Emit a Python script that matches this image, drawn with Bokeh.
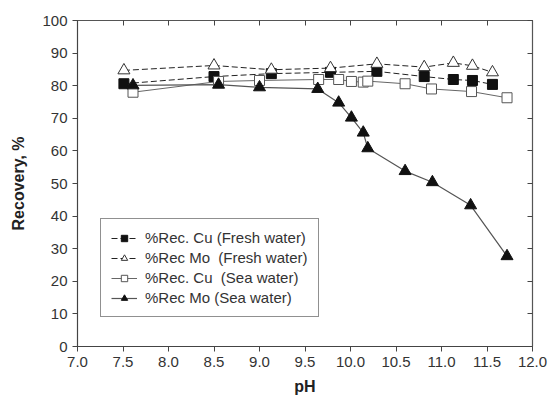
from bokeh.plotting import figure
from bokeh.models import (Range1d, LinearAxis, FixedTicker, Legend, LegendItem,
                          NumeralTickFormatter, CustomLabelingPolicy)
from bokeh.embed import file_html
from bokeh.resources import INLINE

# Data
ph_cu_fresh = [7.51, 8.50, 9.13, 9.78, 10.29, 10.81, 11.13, 11.34, 11.56]
rec_cu_fresh = [80.6, 82.8, 83.7, 84.1, 84.4, 82.8, 81.9, 81.6, 80.4]

ph_mo_fresh = [7.51, 8.50, 9.13, 9.78, 10.29, 10.81, 11.13, 11.34, 11.56]
rec_mo_fresh = [84.7, 86.2, 84.9, 85.4, 86.7, 85.7, 87.0, 86.1, 84.1]

ph_cu_sea = [7.61, 8.55, 9.00, 9.65, 9.87, 10.01, 10.14, 10.19, 10.60, 10.89, 11.33, 11.72]
rec_cu_sea = [78.0, 81.3, 81.6, 81.9, 81.9, 81.3, 81.1, 81.4, 80.6, 79.0, 78.2, 76.3]

ph_mo_sea = [7.61, 8.55, 9.00, 9.64, 9.87, 10.01, 10.14, 10.19, 10.60, 10.90, 11.32, 11.72]
rec_mo_sea = [80.1, 80.3, 79.5, 79.0, 74.8, 70.2, 65.6, 60.8, 53.8, 50.4, 43.3, 27.7]

x_ticks = [7.0, 7.5, 8.0, 8.5, 9.0, 9.5, 10.0, 10.5, 11.0, 11.5, 12.0]
y_ticks = [0, 10, 20, 30, 40, 50, 60, 70, 80, 90, 100]

labels = ["%Rec. Cu (Fresh water)", "%Rec Mo  (Fresh water)",
          "%Rec. Cu  (Sea water)", "%Rec Mo (Sea water)"]

FONT = "Liberation Sans"
TXT = "#333333"
AX = "#444444"

p = figure(width=550, height=403, output_backend="svg", toolbar_location=None,
           x_range=Range1d(7, 12), y_range=Range1d(0, 100),
           min_border_left=77, min_border_right=18, min_border_top=20, min_border_bottom=57)
p.background_fill_color = "white"
p.border_fill_color = "white"
p.grid.visible = False
p.outline_line_color = "#555555"
p.outline_line_width = 1.2

for ax in (p.xaxis[0], p.yaxis[0]):
    ax.axis_line_color = AX
    ax.major_tick_line_color = AX
    ax.major_tick_out = 5
    ax.major_tick_in = 0
    ax.minor_tick_line_color = None
    ax.major_label_text_font = FONT
    ax.major_label_text_font_size = "15px"
    ax.major_label_text_color = TXT
    ax.axis_label_text_font = FONT
    ax.axis_label_text_font_size = "16px"
    ax.axis_label_text_font_style = "bold"
    ax.axis_label_text_color = "#222222"

p.xaxis[0].ticker = FixedTicker(ticks=x_ticks)
p.xaxis[0].formatter = NumeralTickFormatter(format="0.0")
p.yaxis[0].ticker = FixedTicker(ticks=y_ticks)
p.xaxis[0].axis_label = "pH"
p.yaxis[0].axis_label = "Recovery, %"
p.xaxis[0].major_label_standoff = 5
p.yaxis[0].major_label_standoff = 5
p.xaxis[0].axis_label_standoff = 8
p.yaxis[0].axis_label_standoff = 12

hide_labels = CustomLabelingPolicy(code="""
try {
  for (let i = 0; i < indices.size; i++) { indices.unset(i) }
} catch (e) {}
return indices
""")

top = LinearAxis(ticker=FixedTicker(ticks=x_ticks))
right = LinearAxis(ticker=FixedTicker(ticks=y_ticks))
for ax in (top, right):
    ax.major_label_policy = hide_labels
    ax.major_label_text_font_size = "1px"
    ax.major_label_text_alpha = 0
    ax.major_label_standoff = 0
    ax.major_tick_in = 5
    ax.major_tick_out = 0
    ax.minor_tick_line_color = None
    ax.axis_line_color = "#555555"
    ax.major_tick_line_color = AX
p.add_layout(top, "above")
p.add_layout(right, "right")

# Lines
l1 = p.line(ph_cu_fresh, rec_cu_fresh, line_color="#222222", line_dash="6 3", line_width=1)
l2 = p.line(ph_mo_fresh, rec_mo_fresh, line_color="#222222", line_dash="6 3", line_width=1)
l3 = p.line(ph_cu_sea, rec_cu_sea, line_color="#666666", line_width=1)
l4 = p.line(ph_mo_sea, rec_mo_sea, line_color="#555555", line_width=1.2)

# Markers
s1 = p.scatter(ph_cu_fresh, rec_cu_fresh, marker="square", size=10,
               fill_color="#111111", line_color="#111111")
s2 = p.scatter(ph_mo_fresh, rec_mo_fresh, marker="triangle", size=12,
               fill_color="white", line_color="#333333", line_width=1)
s3 = p.scatter(ph_cu_sea, rec_cu_sea, marker="square", size=10,
               fill_color="white", line_color="#555555", line_width=1)
s4 = p.scatter(ph_mo_sea, rec_mo_sea, marker="triangle", size=12,
               fill_color="#111111", line_color="#111111")

legend = Legend(items=[
    LegendItem(label=labels[0], renderers=[l1, s1]),
    LegendItem(label=labels[1], renderers=[l2, s2]),
    LegendItem(label=labels[2], renderers=[l3, s3]),
    LegendItem(label=labels[3], renderers=[l4, s4]),
], location=(23, 29))
legend.label_text_font = FONT
legend.label_text_font_size = "15px"
legend.label_text_color = TXT
legend.glyph_width = 26
legend.glyph_height = 16
legend.label_height = 16
legend.spacing = 3
legend.padding = 10
legend.margin = 0
legend.label_standoff = 8
legend.border_line_color = "#222222"
legend.border_line_width = 1
legend.background_fill_color = "white"
legend.background_fill_alpha = 1
p.add_layout(legend, "center")

open("out.html", "w").write(file_html(p, INLINE))
